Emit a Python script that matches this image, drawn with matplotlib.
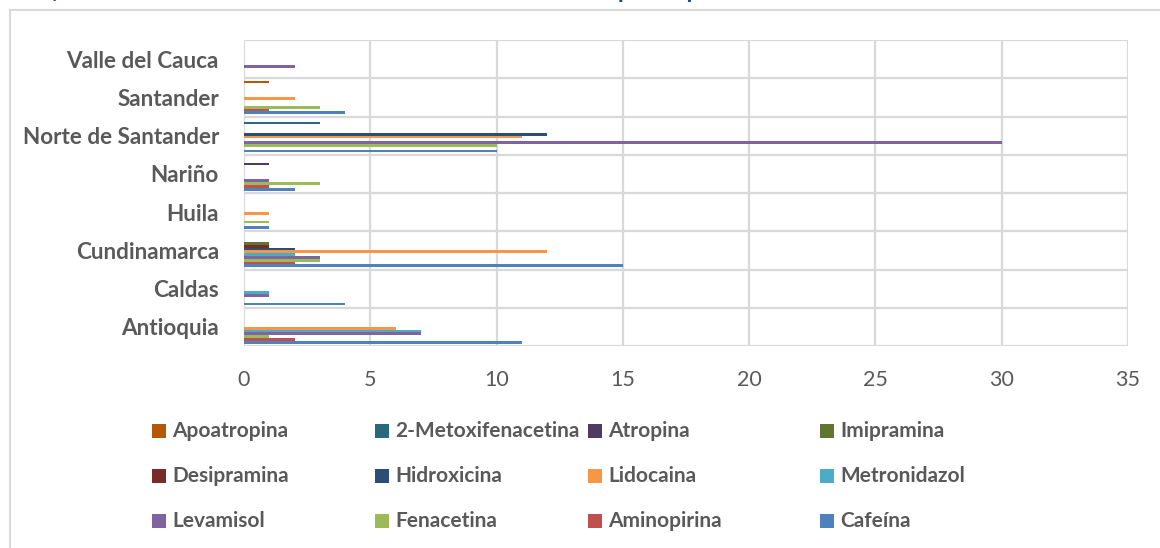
import numpy as np
import matplotlib.pyplot as plt
from matplotlib.patches import Rectangle
from matplotlib.lines import Line2D

plt.rcParams['font.family'] = ['Lato', 'DejaVu Sans']

departamentos = ["Antioquia", "Caldas", "Cundinamarca", "Huila", "Nariño",
                 "Norte de Santander", "Santander", "Valle del Cauca"]

# series in drawing order (bottom of each group first)
sustancias = ["Cafeína", "Aminopirina", "Fenacetina", "Levamisol", "Metronidazol",
              "Lidocaina", "Hidroxicina", "Desipramina", "Imipramina", "Atropina",
              "2-Metoxifenacetina", "Apoatropina"]

colores = ["#4F81BD", "#C0504D", "#9BBB59", "#8064A2", "#4BACC6", "#F79646",
           "#2C4D75", "#772C2A", "#5F7530", "#4D3B62", "#276A7C", "#B65708"]

# counts per departamento, same order as departamentos
cafeina      = [11, 4, 15, 1, 2, 10, 4, 0]
aminopirina  = [2, 0, 2, 0, 1, 0, 1, 0]
fenacetina   = [1, 0, 3, 1, 3, 10, 3, 0]
levamisol    = [7, 1, 3, 0, 1, 30, 0, 2]
metronidazol = [7, 1, 2, 0, 0, 0, 0, 0]
lidocaina    = [6, 0, 12, 1, 0, 11, 2, 0]
hidroxicina  = [0, 0, 2, 0, 0, 12, 0, 0]
desipramina  = [0, 0, 1, 0, 0, 0, 0, 0]
imipramina   = [0, 0, 1, 0, 0, 0, 0, 0]
atropina     = [0, 0, 0, 0, 1, 0, 0, 0]
metoxifen    = [0, 0, 0, 0, 0, 3, 0, 0]
apoatropina  = [0, 0, 0, 0, 0, 0, 1, 0]

valores = [cafeina, aminopirina, fenacetina, levamisol, metronidazol, lidocaina,
           hidroxicina, desipramina, imipramina, atropina, metoxifen, apoatropina]

gris_texto = "#595959"
gris_linea = "#D9D9D9"

fig = plt.figure(figsize=(11.6, 5.48), dpi=100)
ax = fig.add_axes([244/1160, 1 - 346/548, (1128-244)/1160, (346-40)/548])

n = len(sustancias)
grupo = 0.876
alto = grupo / n
y = np.arange(len(departamentos))
for k in range(n):
    pos = y - grupo/2 + alto*(k + 0.5)
    ax.barh(pos, valores[k], height=alto, color=colores[k], linewidth=0, zorder=3)

ax.set_xlim(0, 35)
ax.set_ylim(-0.5, len(departamentos) - 0.5)
ax.set_xticks(np.arange(0, 36, 5))
ax.set_yticks(y)
ax.set_yticklabels(departamentos, fontsize=16.2, fontweight='bold', color=gris_texto)
ax.set_yticks(np.arange(-0.5, len(departamentos), 1), minor=True)
ax.tick_params(axis='x', length=0, pad=17, labelsize=15.5, labelcolor=gris_texto)
ax.tick_params(axis='y', which='both', length=0, pad=18)
ax.grid(axis='x', color=gris_linea, linewidth=1.6, zorder=0)
ax.grid(axis='y', which='minor', color=gris_linea, linewidth=1.6, zorder=0)
for s in ax.spines.values():
    s.set_visible(False)

# chart frame
fig.add_artist(Line2D([10/1160, 10/1160], [0, 1 - 10/548], color=gris_linea, linewidth=1.5))
fig.add_artist(Line2D([10/1160, 1], [1 - 10/548, 1 - 10/548], color=gris_linea, linewidth=1.5))

# title (mostly cut off by the top edge)
fig.text(15/1160, 1 + 1.5/548,
         "Gráfica 5. Número de sustancias adulterantes encontradas por Departamento",
         fontsize=17.5, fontweight='bold', fontstyle='italic', color="#1F497D",
         va='baseline', ha='left')

# legend, 3 rows x 4 columns, reversed series order
col_x = [152, 375, 588, 820]
fila_y = [431, 476, 521]
orden = list(range(n))[::-1]
for j, k in enumerate(orden):
    fila, col = divmod(j, 4)
    x0 = col_x[col]
    yc = fila_y[fila]
    fig.add_artist(Rectangle((x0/1160, 1 - (yc+7)/548), 14/1160, 14/548,
                             facecolor=colores[k], edgecolor='none'))
    fig.text((x0+20)/1160, 1 - yc/548, sustancias[k], fontsize=15,
             fontweight='bold', color=gris_texto, va='center', ha='left')

fig.savefig("out.png", dpi=100)
